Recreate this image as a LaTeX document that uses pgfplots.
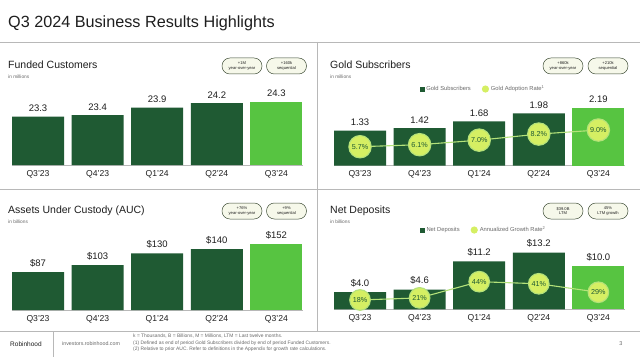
\documentclass[border=0pt]{standalone}
\usepackage{pgfplots}
\pgfplotsset{compat=1.18}
\usepackage{fontspec}
\setmainfont{Liberation Sans}
\definecolor{dkg}{HTML}{1F5A33}
\definecolor{brg}{HTML}{57C441}
\definecolor{limec}{HTML}{D5EF63}
\definecolor{lline}{HTML}{B4E27A}
\definecolor{txt}{HTML}{1E1E1E}
\definecolor{pillfill}{HTML}{F6F8EA}
\definecolor{pilldraw}{HTML}{3B4A33}
\definecolor{linec}{HTML}{B8B8B8}
\definecolor{subc}{HTML}{6A6A6A}
\pgfplotsset{
  panel/.style={scale only axis, width=290.8pt, xmin=-0.44, xmax=4.44,
    anchor=south west, axis x line*=bottom, axis y line=none,
    x axis line style={linec, line width=0.5pt, -},
    xtick={0,1,2,3,4}, xticklabels={Q3’23,Q4’23,Q1’24,Q2’24,Q3’24},
    major tick length=0pt,
    xticklabel style={anchor=center, yshift=-9pt, font=\fontsize{8.6}{9}\selectfont, text=txt},
    ybar, bar width=52pt,
    every node near coord/.append style={font=\fontsize{9.5}{10}\selectfont, text=txt, yshift=1.5pt},
  },
  barplot/.style={fill=#1, draw=none, bar shift=0pt, nodes near coords, point meta=explicit symbolic},
  lineaxis/.style={scale only axis, width=290.8pt, xmin=-0.44, xmax=4.44, anchor=south west, hide axis, clip=false},
  circplot/.style={color=lline, line width=1.1pt, mark=*, mark size=#1,
    mark options={fill=limec, draw=none}, nodes near coords, point meta=explicit symbolic,
    every node near coord/.append style={anchor=center, font=\fontsize{7.2}{8}\selectfont, text=dkg},
    legend image code/.code={\fill[limec] (3pt,0pt) circle (3pt);}},
}
\newcommand{\pill}[4]{\node[draw=pilldraw, fill=pillfill, rounded corners=7.9pt, line width=0.5pt,
  minimum width=40pt, minimum height=16pt, inner sep=0pt, align=center,
  font=\fontsize{4.1}{4.9}\selectfont, text=txt] at (#1,{357-#2}) {#3\\#4};}
\begin{document}
\begin{tikzpicture}[x=1pt,y=1pt]
\fill[white] (0,0) rectangle (640,357);
\useasboundingbox (0,0) rectangle (640,357);
% frame lines
\draw[linec, line width=0.8pt] (0,{357-42}) -- (640,{357-42});
\draw[linec, line width=0.8pt] (0,{357-189}) -- (640,{357-189});
\draw[linec, line width=0.8pt] (317,{357-42}) -- (317,{357-331});
\draw[linec, line width=0.8pt] (0,{357-331}) -- (640,{357-331});
\draw[linec, line width=0.8pt] (53,{357-331}) -- (53,0);
% title
\node[anchor=base west, inner sep=0pt, font=\fontsize{16.2}{19}\selectfont, text=txt] at (8,{357-27.5}) {Q3 2024 Business Results Highlights};
% panel titles
\node[anchor=base west, inner sep=0pt, font=\fontsize{10.5}{12}\selectfont, text=txt] at (8,{357-69}) {Funded Customers};
\node[anchor=west, inner sep=0pt, font=\fontsize{4.8}{5}\selectfont, text=subc] at (8,{357-77}) {in millions};
\node[anchor=base west, inner sep=0pt, font=\fontsize{10.5}{12}\selectfont, text=txt] at (330,{357-69}) {Gold Subscribers};
\node[anchor=west, inner sep=0pt, font=\fontsize{4.8}{5}\selectfont, text=subc] at (330,{357-77}) {in millions};
\node[anchor=base west, inner sep=0pt, font=\fontsize{10.5}{12}\selectfont, text=txt] at (8,{357-213}) {Assets Under Custody (AUC)};
\node[anchor=west, inner sep=0pt, font=\fontsize{4.8}{5}\selectfont, text=subc] at (8,{357-221.5}) {in billions};
\node[anchor=base west, inner sep=0pt, font=\fontsize{10.5}{12}\selectfont, text=txt] at (330,{357-213}) {Net Deposits};
\node[anchor=west, inner sep=0pt, font=\fontsize{4.8}{5}\selectfont, text=subc] at (330,{357-221.5}) {in billions};
% pills
\pill{242}{66}{+1M}{year-over-year}
\pill{286.5}{66}{+160k}{sequential}
\pill{563}{66}{+860k}{year-over-year}
\pill{608}{66}{+210k}{sequential}
\pill{242}{211}{+76\%}{year-over-year}
\pill{286.5}{211}{+9\%}{sequential}
\pill{563}{211}{\$39.0B}{LTM}
\pill{608}{211}{45\%}{LTM growth}
% footer
\node[anchor=west, inner sep=0pt, font=\fontsize{6.5}{7}\selectfont, text=txt] at (10,{357-344}) {Robinhood};
\node[anchor=west, inner sep=0pt, font=\fontsize{5.3}{6}\selectfont, text=subc] at (62,{357-344}) {investors.robinhood.com};
\node[anchor=north west, inner sep=0pt, align=left, font=\fontsize{4.9}{6.3}\selectfont, text=subc] at (133,{357-334}) {k = Thousands, B = Billions, M = Millions, LTM = Last twelve months.\\(1) Defined as end of period Gold Subscribers divided by end of period Funded Customers.\\(2) Relative to prior AUC. Refer to definitions in the Appendix for growth rate calculations.};
\node[anchor=center, inner sep=0pt, font=\fontsize{5.5}{6}\selectfont, text=subc] at (621,{357-344}) {3};

% Panel 1: Funded Customers
\begin{axis}[panel, at={(11.8pt,192pt)}, height=88.8pt, ymin=20.08, ymax=26]
\addplot[barplot=dkg] coordinates {(0,23.3)[23.3] (1,23.4)[23.4] (2,23.9)[23.9] (3,24.2)[24.2]};
\addplot[barplot=brg] coordinates {(4,24.3)[24.3]};
\end{axis}

% Panel 2: Gold Subscribers
\begin{axis}[panel, at={(333.8pt,191.3pt)}, height=79.2pt, ymin=0, ymax=3.0]
\addplot[barplot=dkg] coordinates {(0,1.33)[1.33] (1,1.42)[1.42] (2,1.68)[1.68] (3,1.98)[1.98]};
\addplot[barplot=brg] coordinates {(4,2.19)[2.19]};
\end{axis}
\begin{axis}[lineaxis, at={(333.8pt,191.3pt)}, height=79.2pt, ymin=1.95, ymax=17.6,
  legend style={at={(0.513,0.968)}, anchor=center, draw=none, fill=none,
    font=\fontsize{5.8}{6}\selectfont, text=subc, legend columns=2,
    /tikz/every even column/.append style={column sep=9pt}}]
\addlegendimage{legend image code/.code={\fill[dkg] (0pt,-2.2pt) rectangle (4.4pt,2.2pt);}}
\addlegendentry{Gold Subscribers}
\addplot[circplot=11.2pt] coordinates {(0,5.7)[5.7\%] (1,6.1)[6.1\%] (2,7.0)[7.0\%] (3,8.2)[8.2\%] (4,9.0)[9.0\%]};
\addlegendentry{Gold Adoption Rate\textsuperscript{1}}
\end{axis}

% Panel 3: AUC
\begin{axis}[panel, at={(11.8pt,47pt)}, height=87pt, ymin=0, ymax=200]
\addplot[barplot=dkg] coordinates {(0,87)[\$87] (1,103)[\$103] (2,130)[\$130] (3,140)[\$140]};
\addplot[barplot=brg] coordinates {(4,152)[\$152]};
\end{axis}

% Panel 4: Net Deposits
\begin{axis}[panel, at={(333.8pt,47.7pt)}, height=85.8pt, ymin=0, ymax=20]
\addplot[barplot=dkg] coordinates {(0,4.0)[\$4.0] (1,4.6)[\$4.6] (2,11.2)[\$11.2] (3,13.2)[\$13.2]};
\addplot[barplot=brg] coordinates {(4,10.0)[\$10.0]};
\end{axis}
\begin{axis}[lineaxis, at={(333.8pt,47.7pt)}, height=85.8pt, ymin=4.8, ymax=126.5,
  legend style={at={(0.515,0.924)}, anchor=center, draw=none, fill=none,
    font=\fontsize{5.8}{6}\selectfont, text=subc, legend columns=2,
    /tikz/every even column/.append style={column sep=9pt}}]
\addlegendimage{legend image code/.code={\fill[dkg] (0pt,-2.2pt) rectangle (4.4pt,2.2pt);}}
\addlegendentry{Net Deposits}
\addplot[circplot=10.3pt] coordinates {(0,18)[18\%] (1,21)[21\%] (2,44)[44\%] (3,41)[41\%] (4,29)[29\%]};
\addlegendentry{Annualized Growth Rate\textsuperscript{2}}
\end{axis}
\end{tikzpicture}
\end{document}
